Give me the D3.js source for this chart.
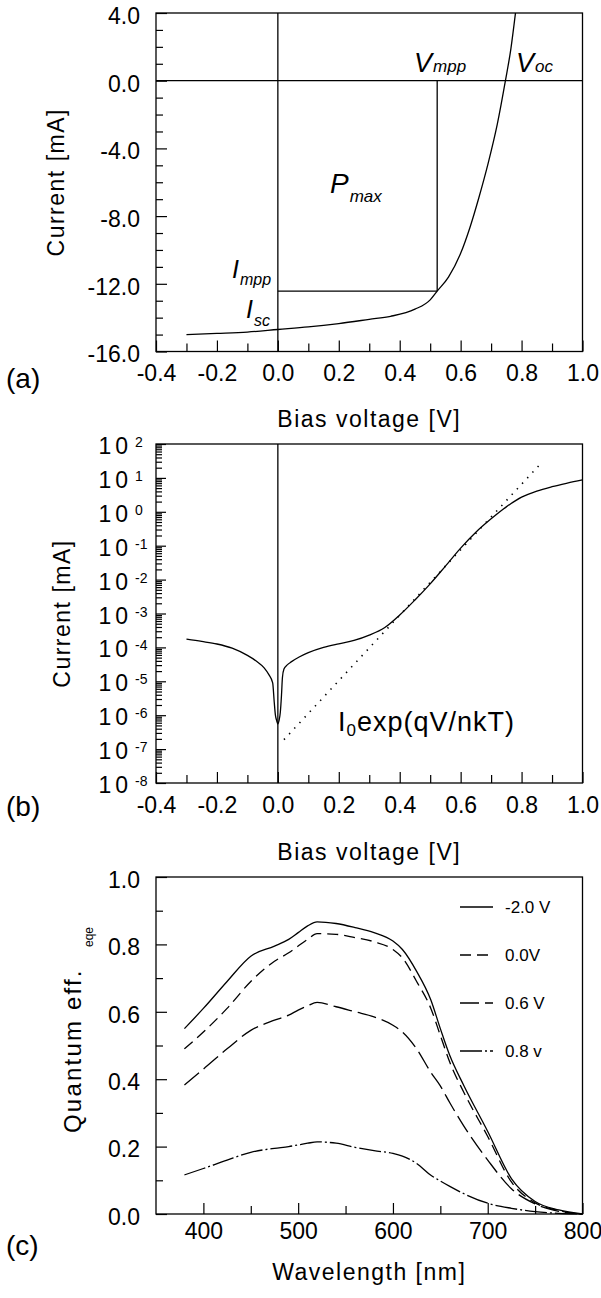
<!DOCTYPE html>
<html>
<head>
<meta charset="utf-8">
<script src="https://cdn.jsdelivr.net/npm/d3@7"></script>
<style>
  body { margin: 0; background: #fff; }
  svg { display: block; }
</style>
</head>
<body>
<svg id="fig" width="601" height="1298"></svg>
<script>
// ---------- data ----------
// (a) linear I-V curve under illumination
const biasMajor = [-0.4, -0.2, 0.0, 0.2, 0.4, 0.6, 0.8, 1.0];
const biasMinor = [-0.3, -0.1, 0.1, 0.3, 0.5, 0.7, 0.9];
const currentMajor = [-16, -12, -8, -4, 0, 4];
const currentMinor = [-15, -14, -13, -11, -10, -9, -7, -6, -5, -3, -2, -1, 1, 2, 3];
const ivVoltage = [-0.3, -0.2, -0.1, 0.0, 0.1, 0.2, 0.3, 0.37, 0.45, 0.5, 0.523, 0.56, 0.6, 0.63, 0.66, 0.69, 0.72, 0.747, 0.765, 0.78];
const ivCurrent = [-15.0, -14.93, -14.85, -14.7, -14.55, -14.35, -14.1, -13.92, -13.5, -12.95, -12.43, -11.6, -10.2, -8.7, -6.9, -4.9, -2.6, 0.0, 1.9, 4.0];
const mppVoltage = 0.523;
const mppCurrent = -12.43;

// (b) dark current, log scale
const decadeExponents = [-8, -7, -6, -5, -4, -3, -2, -1, 0, 1, 2];
const logVoltage = [-0.3, -0.25, -0.2, -0.15, -0.1, -0.07, -0.045, -0.03, -0.017, -0.012, -0.008, -0.004, 0.0,
  0.004, 0.008, 0.012, 0.015, 0.02, 0.03, 0.045, 0.07, 0.1, 0.15, 0.2, 0.25, 0.3, 0.35, 0.4, 0.45, 0.5,
  0.55, 0.6, 0.65, 0.7, 0.75, 0.8, 0.85, 0.9, 0.95, 1.0];
const logCurrent = [1.75e-4, 1.5e-4, 1.26e-4, 9.5e-5, 5.8e-5, 3.9e-5, 2.5e-5, 1.6e-5, 9e-6, 2.5e-6, 1e-6, 7e-7, 5.5e-7,
  7e-7, 1.2e-6, 4e-6, 1.3e-5, 2.3e-5, 3e-5, 3.8e-5, 5.2e-5, 7e-5, 1.0e-4, 1.28e-4, 1.6e-4, 2.3e-4, 3.8e-4, 9e-4, 2.5e-3, 7.5e-3,
  2.5e-2, 8.5e-2, 0.25, 0.62, 1.4, 2.7, 4.1, 5.5, 7.0, 8.7];
const idealVoltage = [0.02, 0.868];
const idealCurrent = [1.9e-7, 29.5];

// (c) external quantum efficiency spectra
const qeMajor = [0.0, 0.2, 0.4, 0.6, 0.8, 1.0];
const qeMinor = [0.1, 0.3, 0.5, 0.7, 0.9];
const waveMajor = [400, 500, 600, 700, 800];
const waveMinor = [450, 550, 650, 750];
const wavelength = [380, 400, 425, 450, 475, 490, 500, 510, 520, 540, 560, 580, 600, 610, 625, 640, 650, 660, 675, 700, 725, 750, 775, 800];
const qeMinus2V = [0.55, 0.61, 0.69, 0.765, 0.795, 0.815, 0.835, 0.855, 0.867, 0.862, 0.85, 0.835, 0.81, 0.785, 0.72, 0.635, 0.55, 0.47, 0.38, 0.245, 0.105, 0.037, 0.012, 0.0];
const qe0V      = [0.49, 0.54, 0.61, 0.69, 0.75, 0.775, 0.795, 0.815, 0.832, 0.83, 0.82, 0.808, 0.785, 0.76, 0.69, 0.61, 0.53, 0.45, 0.36, 0.23, 0.095, 0.033, 0.01, 0.0];
const qe06V     = [0.383, 0.43, 0.49, 0.545, 0.575, 0.59, 0.605, 0.618, 0.628, 0.615, 0.6, 0.585, 0.56, 0.54, 0.49, 0.42, 0.38, 0.33, 0.26, 0.16, 0.075, 0.03, 0.008, 0.0];
const qe08V     = [0.116, 0.135, 0.16, 0.183, 0.195, 0.2, 0.205, 0.21, 0.214, 0.21, 0.198, 0.188, 0.18, 0.172, 0.15, 0.115, 0.098, 0.082, 0.06, 0.032, 0.017, 0.007, 0.002, 0.0];
const legendLabels = ["-2.0 V", "0.0V", "0.6 V", "0.8 v"];

// ---------- drawing ----------
const FONT = '"Liberation Sans", Arial, Helvetica, sans-serif';
const svg = d3.select("#fig").attr("font-family", FONT);
const LW = 1.3;
const L = 156, R = 582.5;

function frame(top, bottom) {
  svg.append("rect")
    .attr("x", L).attr("y", top).attr("width", R - L).attr("height", bottom - top)
    .attr("fill", "none").attr("stroke", "#000").attr("stroke-width", LW);
}

function styleAxis(g, size) {
  g.select(".domain").remove();
  g.attr("font-family", FONT).attr("font-size", size);
  g.selectAll(".tick line").attr("stroke-width", 1.2);
  g.selectAll(".tick text").attr("fill", "#000");
}

function bottomAxis(x, bottom, major, minor, fmt, pad) {
  svg.append("g").attr("transform", `translate(0,${bottom})`)
    .call(d3.axisBottom(x).tickValues(minor).tickFormat("").tickSize(-8))
    .call(g => styleAxis(g, 23));
  svg.append("g").attr("transform", `translate(0,${bottom})`)
    .call(d3.axisBottom(x).tickValues(major).tickFormat(fmt).tickSize(-11).tickPadding(pad))
    .call(g => styleAxis(g, 23));
}

function leftAxis(y, major, minor, fmt) {
  svg.append("g").attr("transform", `translate(${L},0)`)
    .call(d3.axisLeft(y).tickValues(minor).tickFormat("").tickSize(-7))
    .call(g => styleAxis(g, 23));
  svg.append("g").attr("transform", `translate(${L},0)`)
    .call(d3.axisLeft(y).tickValues(major).tickFormat(fmt).tickSize(-11).tickPadding(16))
    .call(g => styleAxis(g, 23))
    .call(g => g.selectAll(".tick text").attr("dy", "0.45em"));
}

function title(text, x, y, rotate) {
  const t = svg.append("text")
    .attr("font-size", 23).attr("letter-spacing", 1.5).attr("text-anchor", "middle");
  if (rotate) t.attr("transform", `translate(${x},${y}) rotate(-90)`);
  else t.attr("x", x).attr("y", y);
  t.text(text);
  return t;
}

function panelTag(text, y) {
  svg.append("text").attr("x", 6).attr("y", y).attr("font-size", 28).text(text);
}

function subLabel(x, y, main, sub, mainSize, subSize, subDy) {
  const t = svg.append("text").attr("x", x).attr("y", y)
    .attr("font-style", "italic").attr("font-size", mainSize);
  t.append("tspan").text(main);
  t.append("tspan").attr("font-size", subSize).attr("dy", subDy).attr("dx", 1).text(sub);
}

const fmt1 = d => d.toFixed(1);

// ===== (a) =====
const aTop = 13, aBottom = 351.5;
const xa = d3.scaleLinear().domain([-0.4, 1.0]).range([L, R]);
const ya = d3.scaleLinear().domain([-16, 4]).range([aBottom, aTop]);

bottomAxis(xa, aBottom, biasMajor, biasMinor, fmt1, 13);
leftAxis(ya, currentMajor, currentMinor, fmt1);

// zero axes
svg.append("line").attr("x1", L).attr("x2", R).attr("y1", ya(0)).attr("y2", ya(0))
  .attr("stroke", "#000").attr("stroke-width", LW);
svg.append("line").attr("x1", xa(0)).attr("x2", xa(0)).attr("y1", aTop).attr("y2", aBottom)
  .attr("stroke", "#000").attr("stroke-width", LW);
// maximum power rectangle
svg.append("line").attr("x1", xa(mppVoltage)).attr("x2", xa(mppVoltage))
  .attr("y1", ya(0)).attr("y2", ya(mppCurrent)).attr("stroke", "#000").attr("stroke-width", LW);
svg.append("line").attr("x1", xa(0)).attr("x2", xa(mppVoltage))
  .attr("y1", ya(mppCurrent)).attr("y2", ya(mppCurrent)).attr("stroke", "#000").attr("stroke-width", LW);

const ivLine = d3.line().x(d => xa(d[0])).y(d => ya(d[1])).curve(d3.curveMonotoneX);
svg.append("path").datum(d3.zip(ivVoltage, ivCurrent)).attr("d", ivLine)
  .attr("fill", "none").attr("stroke", "#000").attr("stroke-width", LW);

subLabel(414, 72, "V", "mpp", 27, 17, 0);
subLabel(516, 72, "V", "oc", 27, 17, 0);
subLabel(330, 193, "P", "max", 28, 17, 9);
subLabel(232, 278, "I", "mpp", 25, 16, 7);
subLabel(246, 318, "I", "sc", 25, 16, 8);

frame(aTop, aBottom);
title("Bias voltage [V]", (L + R) / 2, 427, false);
title("Current [mA]", 64, (aTop + aBottom) / 2, true);
panelTag("(a)", 388);

// ===== (b) =====
const bTop = 444, bBottom = 783;
const xb = d3.scaleLinear().domain([-0.4, 1.0]).range([L, R]);
const yb = d3.scaleLog().domain([1e-8, 1e2]).range([bBottom, bTop]);

bottomAxis(xb, bBottom, biasMajor, biasMinor, fmt1, 14);

const logMinor = [];
decadeExponents.slice(0, -1).forEach(e => {
  for (let k = 2; k <= 9; k++) logMinor.push(k * Math.pow(10, e));
});
svg.append("g").attr("transform", `translate(${L},0)`)
  .call(d3.axisLeft(yb).tickValues(logMinor).tickFormat("").tickSize(-6))
  .call(g => styleAxis(g, 23));
svg.append("g").attr("transform", `translate(${L},0)`)
  .call(d3.axisLeft(yb).tickValues(decadeExponents.map(e => Math.pow(10, e))).tickFormat("").tickSize(-10))
  .call(g => styleAxis(g, 23));

// decade labels as 10 with a raised exponent
decadeExponents.forEach(e => {
  const yy = yb(Math.pow(10, e)) + 10;
  svg.append("text").attr("x", 132).attr("y", yy).attr("text-anchor", "end")
    .attr("font-size", 23).attr("letter-spacing", 4).text("10");
  svg.append("text").attr("x", 135).attr("y", yy - 7)
    .attr("font-size", 14).text(String(e));
});

svg.append("line").attr("x1", xb(0)).attr("x2", xb(0)).attr("y1", bTop).attr("y2", bBottom)
  .attr("stroke", "#000").attr("stroke-width", LW);

const logLine = d3.line().x(d => xb(d[0])).y(d => yb(d[1])).curve(d3.curveMonotoneX);
svg.append("path").datum(d3.zip(logVoltage, logCurrent)).attr("d", logLine)
  .attr("fill", "none").attr("stroke", "#000").attr("stroke-width", LW);
svg.append("path").datum(d3.zip(idealVoltage, idealCurrent)).attr("d", d3.line().x(d => xb(d[0])).y(d => yb(d[1])))
  .attr("fill", "none").attr("stroke", "#000").attr("stroke-width", 1.6)
  .attr("stroke-dasharray", "1.4,6.2");

{
  const t = svg.append("text").attr("x", 338).attr("y", 731).attr("font-size", 27).attr("letter-spacing", 1);
  t.append("tspan").text("I");
  t.append("tspan").attr("font-size", 17).attr("dy", 5).text("0");
  t.append("tspan").attr("dy", -5).text("exp(qV/nkT)");
}

frame(bTop, bBottom);
title("Bias voltage [V]", (L + R) / 2, 860, false);
title("Current [mA]", 70, (bTop + bBottom) / 2, true);
panelTag("(b)", 816);

// ===== (c) =====
const cTop = 877, cBottom = 1214;
const xc = d3.scaleLinear().domain([350, 800]).range([L, R]);
const yc = d3.scaleLinear().domain([0, 1]).range([cBottom, cTop]);

bottomAxis(xc, cBottom, waveMajor, waveMinor, d => String(d), 9);
leftAxis(yc, qeMajor, qeMinor, fmt1);

const series = [
  { values: qeMinus2V, dash: null },
  { values: qe0V, dash: "11,6" },
  { values: qe06V, dash: "19,6" },
  { values: qe08V, dash: "22,3,2,3" }
];
const qeLine = d3.line().x(d => xc(d[0])).y(d => yc(d[1])).curve(d3.curveMonotoneX);
series.forEach(s => {
  svg.append("path").datum(d3.zip(wavelength, s.values)).attr("d", qeLine)
    .attr("fill", "none").attr("stroke", "#000").attr("stroke-width", LW)
    .attr("stroke-dasharray", s.dash);
});

// legend
const legendY = [907, 955, 1003, 1051];
legendLabels.forEach((lab, i) => {
  svg.append("line").attr("x1", 460).attr("x2", 493).attr("y1", legendY[i]).attr("y2", legendY[i])
    .attr("stroke", "#000").attr("stroke-width", LW).attr("stroke-dasharray", series[i].dash);
  svg.append("text").attr("x", 505).attr("y", legendY[i] + 6).attr("font-size", 17).text(lab);
});

frame(cTop, cBottom);
title("Wavelength [nm]", (L + R) / 2, 1280, false);
{
  const t = svg.append("text").attr("font-size", 24).attr("letter-spacing", 2.2)
    .attr("transform", `translate(81,1133) rotate(-90)`);
  t.text("Quantum eff.");
  svg.append("text").attr("font-size", 12)
    .attr("transform", `translate(93,947) rotate(-90)`).text("eqe");
}
panelTag("(c)", 1255);
</script>
</body>
</html>
